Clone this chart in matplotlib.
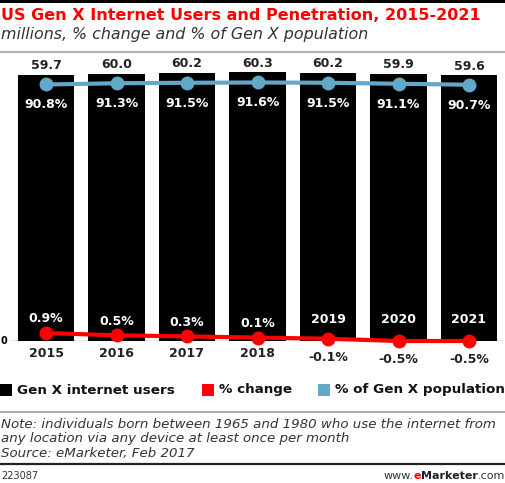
import matplotlib
matplotlib.use("Agg")
import matplotlib.pyplot as plt
from matplotlib.lines import Line2D
from matplotlib.patches import Rectangle

years = ["2015", "2016", "2017", "2018", "2019", "2020", "2021"]
users = [59.7, 60.0, 60.2, 60.3, 60.2, 59.9, 59.6]
pct_change = [0.9, 0.5, 0.3, 0.1, -0.1, -0.5, -0.5]
pct_pop = [90.8, 91.3, 91.5, 91.6, 91.5, 91.1, 90.7]

W, H = 506, 483
fig = plt.figure(figsize=(W / 100, H / 100), dpi=100)
plt.rcParams['font.family'] = ['DejaVu Sans']

def fy(py):
    return 1 - py / H

def fx(px):
    return px / W

BLUE = '#62a8c9'
RED = '#ff0000'

# header decorations
fig.add_artist(Rectangle((0, fy(3)), 1, 3 / H, transform=fig.transFigure, color='black', lw=0))
fig.text(fx(1), fy(15), "US Gen X Internet Users and Penetration, 2015-2021", color=RED,
         fontsize=11.5, fontweight='bold', va='center', ha='left')
fig.text(fx(1), fy(35), "millions, % change and % of Gen X population", color='#333333',
         fontsize=11.4, style='italic', va='center', ha='left')
fig.add_artist(Line2D([0, 1], [fy(52), fy(52)], transform=fig.transFigure, color='#b0b0b0', lw=1.5))

# main axes
top_px, base_px = 60, 341
ax = fig.add_axes([fx(10.75), fy(base_px), fx(493.5), (base_px - top_px) / H])
x = list(range(len(years)))
ax.bar(x, users, width=0.8, color='black', zorder=2)
ax.set_xlim(-0.5, 6.5)
ax.set_ylim(0, 63.06)
ax.axis('off')
ax.axhline(0, color='#999999', lw=1, zorder=1)
fig.text(fx(7), fy(base_px), "0", fontsize=7, fontweight='bold', ha='right', va='center')

for xi, v in zip(x, users):
    ax.annotate(f"{v:.1f}", (xi, v), xytext=(0, 2), textcoords='offset points',
                ha='center', va='bottom', fontsize=9, fontweight='bold', color='#222222')

# blue line
axb = ax.twinx()
axb.set_ylim(-11.8, 100.6)
axb.axis('off')
axb.plot(x, pct_pop, color=BLUE, lw=3, marker='o', markersize=9, zorder=3)
for xi, v in zip(x, pct_pop):
    axb.annotate(f"{v:.1f}%", (xi, v), xytext=(0, -10), textcoords='offset points',
                 ha='center', va='top', fontsize=9, fontweight='bold', color='white')

# red line
axr = ax.twinx()
axr.set_ylim(-0.5, 48.8)
axr.axis('off')
axr.plot(x, pct_change, color=RED, lw=3, marker='o', markersize=9, zorder=4, clip_on=False)
for xi, v, yr in zip(x, pct_change, years):
    if v > 0:
        axr.annotate(f"{v:.1f}%", (xi, v), xytext=(0, 5.5), textcoords='offset points',
                     ha='center', va='bottom', fontsize=9, fontweight='bold', color='white')
        ax.annotate(yr, (xi, 0), xytext=(0, -4.5), textcoords='offset points',
                    ha='center', va='top', fontsize=9, fontweight='bold', color='#222222',
                    annotation_clip=False)
    else:
        axr.annotate(f"{v:.1f}%", (xi, v), xytext=(0, -9), textcoords='offset points',
                     ha='center', va='top', fontsize=9, fontweight='bold', color='#222222',
                     annotation_clip=False)
        ax.annotate(yr, (xi, 0), xytext=(0, 11), textcoords='offset points',
                    ha='center', va='bottom', fontsize=9, fontweight='bold', color='white')

# legend
ly = fy(390)
items = [(0, 'black', "Gen X internet users"), (202, RED, "% change"), (318, BLUE, "% of Gen X population")]
for px, c, lab in items:
    fig.add_artist(Rectangle((fx(px), fy(396)), fx(12), 12 / H, transform=fig.transFigure,
                             color=c, lw=0))
    fig.text(fx(px + 17), ly, lab, fontsize=9.7, fontweight='bold', va='center', ha='left',
             color='#111111')

fig.add_artist(Line2D([0, 1], [fy(412), fy(412)], transform=fig.transFigure, color='#999999', lw=1.2))
notes = ["Note: individuals born between 1965 and 1980 who use the internet from",
         "any location via any device at least once per month",
         "Source: eMarketer, Feb 2017"]
for i, t in enumerate(notes):
    fig.text(fx(1), fy(424 + i * 14.5), t, fontsize=9.6, style='italic', va='center',
             ha='left', color='#333333')
fig.add_artist(Line2D([0, 1], [fy(464), fy(464)], transform=fig.transFigure, color='#222222', lw=1.6))
fig.text(fx(1), fy(476), "223087", fontsize=7, va='center', ha='left', color='#333333')

# www.eMarketer.com footer, right-aligned
fs = 8
t3 = fig.text(fx(505), fy(476), ".com", fontsize=fs, va='center', ha='right', color='#333333')
fig.canvas.draw()
r = fig.canvas.get_renderer()
bb = t3.get_window_extent(r)
t2 = fig.text(bb.x0 / W, fy(476), "Marketer", fontsize=fs, fontweight='bold', va='center',
              ha='right', color='#222222')
bb = t2.get_window_extent(r)
t1 = fig.text(bb.x0 / W, fy(476), "e", fontsize=fs, fontweight='bold', va='center',
              ha='right', color=RED)
bb = t1.get_window_extent(r)
fig.text(bb.x0 / W, fy(476), "www.", fontsize=fs, va='center', ha='right', color='#333333')

fig.savefig("out.png", dpi=100)
